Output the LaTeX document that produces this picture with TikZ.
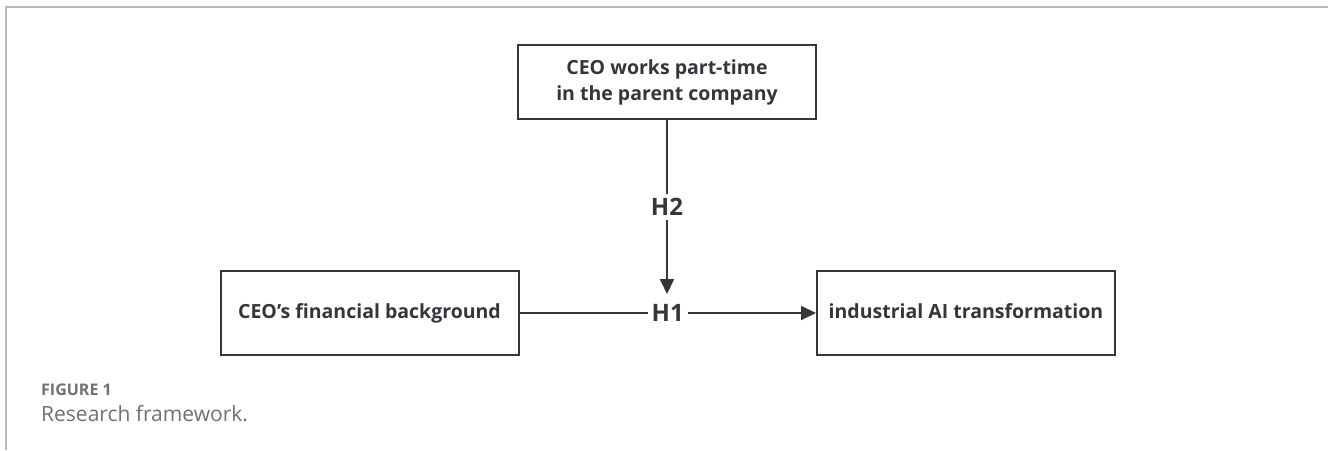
\documentclass[tikz,border=0pt]{standalone}
\usepackage{fontspec}
\setmainfont{Open Sans}
\definecolor{boxline}{RGB}{51,54,58}
\definecolor{captiongray}{RGB}{112,112,112}
\definecolor{framegray}{RGB}{185,185,185}
\usetikzlibrary{arrows.meta,positioning}

\begin{document}
\begin{tikzpicture}[x=1pt, y=-1pt,
    var/.style={draw=boxline, text=boxline, line width=2pt, minimum width=298pt, minimum height=84pt, align=center,
        text height=15pt, text depth=5pt, font=\bfseries\fontsize{19.5}{26}\selectfont},
    link/.style={draw=boxline, line width=2pt, -{Triangle[length=15pt,width=14pt]}},
    hyp/.style={fill=white, text=boxline, inner sep=4pt, font=\bfseries\fontsize{24}{24}\selectfont},
    capnum/.style={anchor=base west, inner sep=0pt, text=captiongray, font=\bfseries\fontsize{16}{16}\selectfont},
    captitle/.style={anchor=base west, inner sep=0pt, text=captiongray, font=\fontsize{21}{21}\selectfont}]
    \useasboundingbox (0,0) rectangle (1328,450);
    % Frame
    \draw[framegray, line width=1.5pt] (6,450) -- (6,7) -- (1328,7);

    % Variables
    \node[var, minimum height=74pt, text height=, text depth=] (parttime) at (667,82) {CEO works part-time\\in the parent company};
    \node[var] (fin) at (369.5,313) {CEO's financial background};
    \node[var] (ai) at (966,313) {industrial AI transformation};
    \coordinate (hit) at (667,294);

    % Hypotheses
    \draw[link] (fin) -- node[hyp] {H1} (ai);
    \draw[link] (parttime) -- node[hyp] {H2} (hit);

    % Caption
    \node[capnum] (fignum) at (41,395) {FIGURE 1};
    \node[captitle] (figtitle) at (41,421) {Research framework.};
\end{tikzpicture}
\end{document}
